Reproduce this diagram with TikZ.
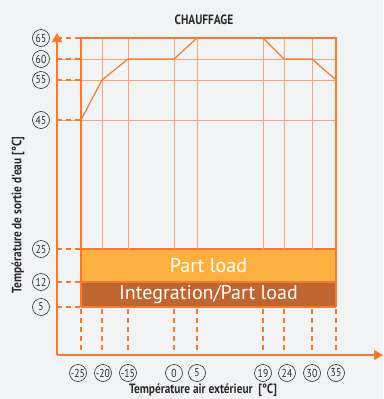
\documentclass[tikz,border=0pt]{standalone}
\usepackage{fontspec}
\setmainfont{PT Sans}
\newfontfamily\condf{PT Sans}[FakeStretch=0.84]
\usetikzlibrary{arrows.meta}
\definecolor{bg}{HTML}{F2F3F5}
\definecolor{org}{HTML}{F47A30}
\definecolor{gridc}{HTML}{F8A477}
\definecolor{barone}{HTML}{FCB040}
\definecolor{bartwo}{HTML}{C0652F}
\definecolor{txt}{HTML}{2B2B2B}
\tikzset{
  lbl/.style={circle, draw=txt, line width=0.6pt, minimum size=17pt, inner sep=0pt, text=txt, font=\condf\fontsize{11.5}{12}\selectfont},
  axis/.style={draw=org, line width=1.3pt},
  gridl/.style={draw=gridc, line width=0.8pt},
  frame/.style={draw=org, line width=1.1pt},
  dsh/.style={draw=org, line width=1.2pt, dash pattern=on 4.5pt off 4.5pt},
  curve/.style={draw=org, line width=1.2pt, line join=round},
  bartext/.style={text=white, font=\fontsize{20}{22}\selectfont},
  axtitle/.style={text=txt, font=\condf\bfseries\fontsize{13.5}{15}\selectfont}
}
\begin{document}
\begin{tikzpicture}[x=1pt,y=-1pt]
\fill[bg] (0,0) rectangle (383,399);
\useasboundingbox (0,0) rectangle (383,399);
% bars
\fill[barone] (81,249) rectangle (336,282);
\fill[bartwo] (81,282) rectangle (336,307);
\draw[frame] (81,249) -- (336,249);
\draw[frame] (81,282) -- (336,282);
\draw[frame] (81,307) -- (336,307);
% grid
\foreach \y in {59,80,120} \draw[gridl] (57,\y) -- (336,\y);
\foreach \x in {102,128,174,197,263,284,312} \draw[gridl] (\x,38) -- (\x,249);
% frame
\draw[frame] (81,307) -- (81,38) -- (336,38) -- (336,307);
% dashes
\foreach \y in {38,59,80,120,249,282,307} \draw[dsh] (57,\y) -- (81,\y);
\foreach \x in {81,102,128,174,197,263,284,312,336} \draw[dsh] (\x,309) -- (\x,355);
% curve
\draw[curve] (81,120) -- (102,80) -- (128,59) -- (174,59) -- (197,38) -- (263,38) -- (284,59) -- (312,59) -- (336,80);
% axes
\coordinate (o) at (57,355);
\coordinate (ytip) at (57,33);
\coordinate (xtip) at (383,355);
\draw[axis, -{Triangle[length=9pt,width=10pt]}] (o) -- (ytip);
\draw[axis, -{Triangle[length=9pt,width=10pt]}] (o) -- (xtip);
% bar texts
\node[bartext] (pl) at (208.5,265.5) {Part load};
\node[bartext] (ipl) at (208.5,294.5) {Integration/Part load};
% left labels
\node[lbl] (y65) at (41,38) {65};
\node[lbl] (y60) at (41,59) {60};
\node[lbl] (y55) at (41,80) {55};
\node[lbl] (y45) at (41,120) {45};
\node[lbl] (y25) at (41,249) {25};
\node[lbl] (y12) at (41,282) {12};
\node[lbl] (y5) at (41,307) {5};
% bottom labels
\node[lbl] (xm25) at (78,373) {-25};
\node[lbl] (xm20) at (103,373) {-20};
\node[lbl] (xm15) at (128,373) {-15};
\node[lbl] (x0) at (174,373) {0};
\node[lbl] (x5) at (197,373) {5};
\node[lbl] (x19) at (263,373) {19};
\node[lbl] (x24) at (287,373) {24};
\node[lbl] (x30) at (312,373) {30};
\node[lbl] (x35) at (336,373) {35};
% titles
\node[axtitle] (title) at (204,20) {CHAUFFAGE};
\node[axtitle, rotate=90] (ytitle) at (18,215) {Température de sortie d'eau [°C]};
\node[axtitle] (xtitle) at (203,390) {Température air extérieur\ \ [°C]};
\end{tikzpicture}
\end{document}
